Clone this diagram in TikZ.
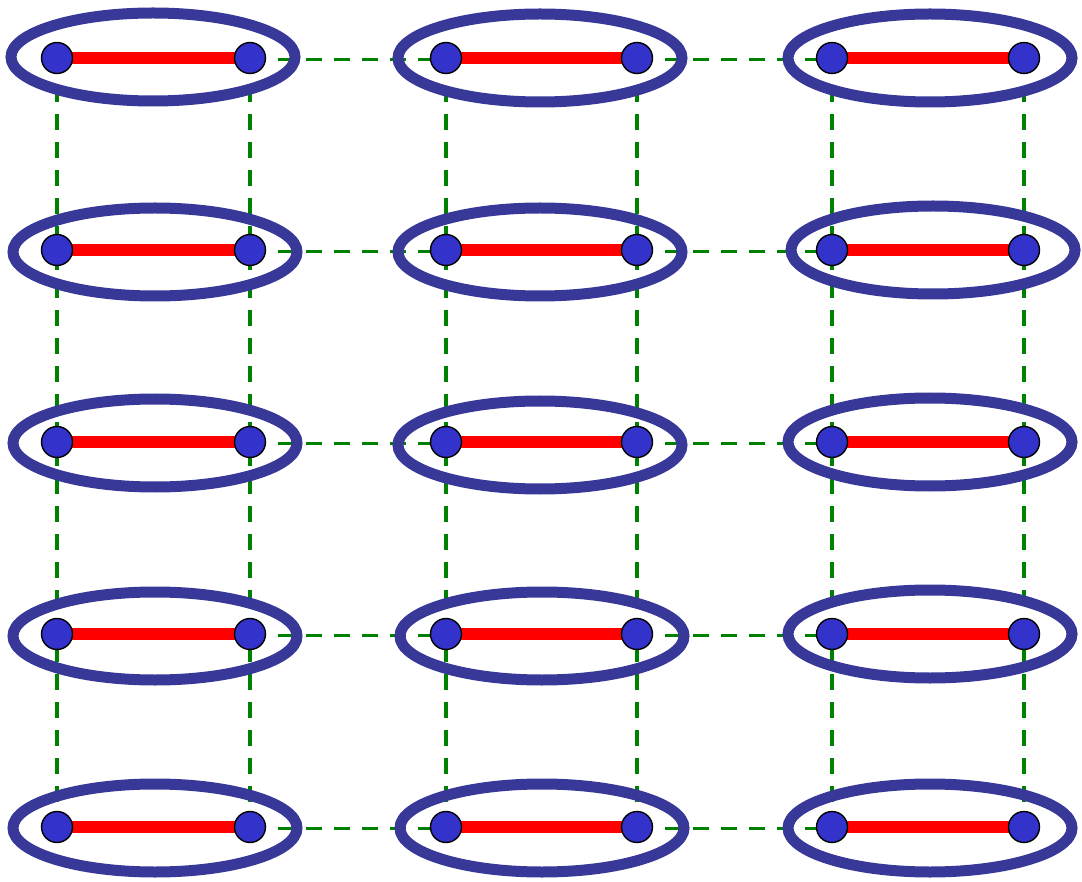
\documentclass[tikz,border=0pt]{standalone}
\definecolor{ringblue}{RGB}{56,56,153}
\definecolor{dotblue}{RGB}{51,51,204}
\definecolor{linkgreen}{RGB}{0,128,0}
\tikzset{
  site/.style={circle,draw=black,line width=1.4pt,fill=dotblue,minimum size=31pt,inner sep=0pt},
  ring/.style={draw=ringblue,line width=11pt},
  bond/.style={draw=red,line width=12pt},
  link/.style={draw=linkgreen,line width=3.6pt,dash pattern=on 16pt off 12pt}
}
\begin{document}
\begin{tikzpicture}[x=1pt,y=-1pt]
\useasboundingbox (0,0) rectangle (1082,882);
% sites
\foreach \r/\y in {1/58,2/250,3/442,4/634,5/827}{
  \foreach \c/\xl/\xr in {1/57/250,2/446/637,3/832/1024}{
    \coordinate (L\r\c) at (\xl,\y);
    \coordinate (R\r\c) at (\xr,\y);
  }
}
% green dashed links
\foreach \c in {1,2,3}{
  \draw[link] (L1\c) -- (L5\c);
  \draw[link] (R1\c) -- (R5\c);
}
\foreach \r in {1,2,3,4,5}{
  \draw[link] ([yshift=-1.5pt]R\r1) -- ([yshift=-1.5pt]L\r2);
  \draw[link] ([yshift=-1.5pt]R\r2) -- ([yshift=-1.5pt]L\r3);
}
% rings
\foreach \r/\c/\cx/\cy in {1/1/153/57,1/2/540/58,1/3/930/58,
  2/1/155/252,2/2/540/252,2/3/933/250,
  3/1/155/443,3/2/540/445,3/3/930/442,
  4/1/155/636,4/2/542/636,4/3/930/634,
  5/1/155/828,5/2/542/828,5/3/930/828}{
  \draw[ring] (\cx,\cy) ellipse [x radius=142, y radius=44];
}
% bonds and dots
\foreach \r in {1,2,3,4,5}{
  \foreach \c in {1,2,3}{
    \draw[bond] (L\r\c) -- (R\r\c);
    \node[site] (nl\r\c) at (L\r\c) {};
    \node[site] (nr\r\c) at (R\r\c) {};
  }
}
\end{tikzpicture}
\end{document}
